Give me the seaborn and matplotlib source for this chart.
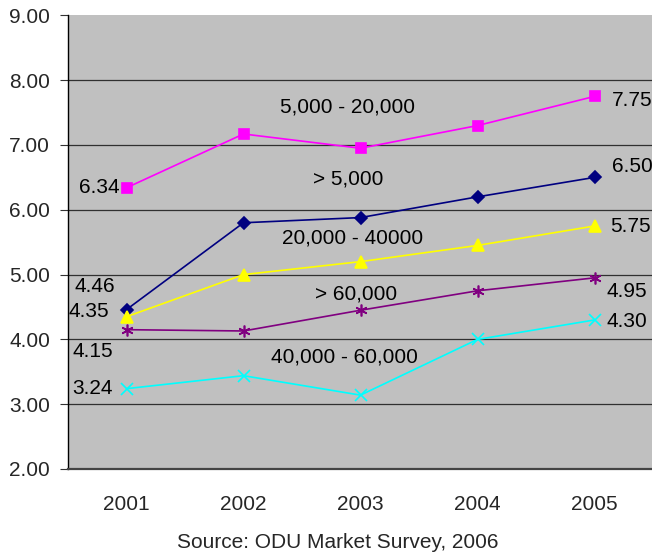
import matplotlib
matplotlib.use("Agg")
import matplotlib.pyplot as plt
import seaborn as sns
import pandas as pd
from matplotlib.ticker import FixedLocator

# Average values by income bracket, 2001-2005
years = ["2001", "2002", "2003", "2004", "2005"]
series_names = ["5,000 - 20,000", "> 5,000", "20,000 - 40000", "> 60,000", "40,000 - 60,000"]
v_5k_20k = [6.34, 7.17, 6.95, 7.30, 7.75]
v_under_5k = [4.46, 5.80, 5.88, 6.20, 6.50]
v_20k_40k = [4.35, 5.00, 5.20, 5.45, 5.75]
v_over_60k = [4.15, 4.13, 4.45, 4.75, 4.95]
v_40k_60k = [3.24, 3.44, 3.14, 4.00, 4.30]
y_ticks = [2.0, 3.0, 4.0, 5.0, 6.0, 7.0, 8.0, 9.0]
source_note = "Source: ODU Market Survey, 2006"

values = [v_5k_20k, v_under_5k, v_20k_40k, v_over_60k, v_40k_60k]
colors = ["#FF00FF", "#000080", "#FFFF00", "#800080", "#00FFFF"]
markers = ["s", "D", "^", (6, 2, 0), "x"]
msizes = [6.5, 6.0, 8.5, 8.5, 8.5]

# where each series name sits (data coords) and offsets (pixels) for end labels
name_pos = [(1.889, 7.58), (1.893, 6.47), (1.931, 5.56), (1.965, 4.70), (1.863, 3.73)]
first_off = [(-7, 0), (-11, 23), (-17, 5), (-13, -22), (-14, 0)]
last_off = [(17, -4), (17, 11), (16, -1), (12, -14), (12, -2)]

rows = []
for name, vals in zip(series_names, values):
    for i, v in enumerate(vals):
        rows.append({"series": name, "pos": i, "value": v})
df = pd.DataFrame(rows)

sns.set_style("white")
plt.rcParams["font.family"] = ["Liberation Sans", "DejaVu Sans"]
plt.rcParams["font.size"] = 15

fig = plt.figure(figsize=(6.52, 5.53), dpi=100)
ax = fig.add_axes([68 / 652, 84 / 553, 585 / 652, 453.6 / 553])
ax.set_facecolor("#C0C0C0")

for name, col, mk, ms in zip(series_names, colors, markers, msizes):
    sub = df[df["series"] == name]
    sns.lineplot(data=sub, x="pos", y="value", ax=ax, color=col, marker=mk,
                 markersize=ms, markerfacecolor=col, markeredgecolor=col,
                 markeredgewidth=1.2, linewidth=1.2, legend=False)

# value labels at both ends, series names in the middle
for name, vals, np_, fo, lo in zip(series_names, values, name_pos, first_off, last_off):
    ax.annotate(f"{vals[0]:.2f}", xy=(0, vals[0]), xytext=fo, textcoords="offset pixels",
                ha="right", va="center", fontsize=15, color="black")
    ax.annotate(f"{vals[-1]:.2f}", xy=(len(vals) - 1, vals[-1]), xytext=lo,
                textcoords="offset pixels", ha="left", va="center", fontsize=15,
                color="black", annotation_clip=False)
    ax.text(np_[0], np_[1], name, ha="center", va="center", fontsize=15, color="black")

ax.set_xlim(-0.5, 4.5)
ax.set_ylim(2, 9)
ax.set_xticks(range(len(years)))
ax.set_xticklabels(years)
ax.xaxis.set_minor_locator(FixedLocator([i - 0.5 for i in range(len(years) + 1)]))
ax.tick_params(axis="x", which="major", length=0, pad=18.5, labelsize=15)
ax.tick_params(axis="x", which="minor", length=5, width=1, color="black", direction="out")
ax.set_yticks(y_ticks)
ax.set_yticklabels([f"{t:.2f}" for t in y_ticks])
ax.tick_params(axis="y", length=5.8, width=0.8, pad=7, direction="out", color="#333333",
               labelsize=15, left=True)
ax.set_xlabel("")
ax.set_ylabel("")

ax.yaxis.grid(True, color="#303030", linewidth=0.9)
ax.get_ygridlines()[-1].set_visible(False)
ax.set_axisbelow(True)

for s in ["top", "right"]:
    ax.spines[s].set_visible(False)
ax.spines["left"].set_color("black")
ax.spines["left"].set_linewidth(1.0)
ax.spines["bottom"].set_color("#444444")
ax.spines["bottom"].set_linewidth(1.6)

fig.text(338 / 652, 1 - 542 / 553, source_note, ha="center", va="center", fontsize=15)

fig.savefig("out.png", dpi=100)
